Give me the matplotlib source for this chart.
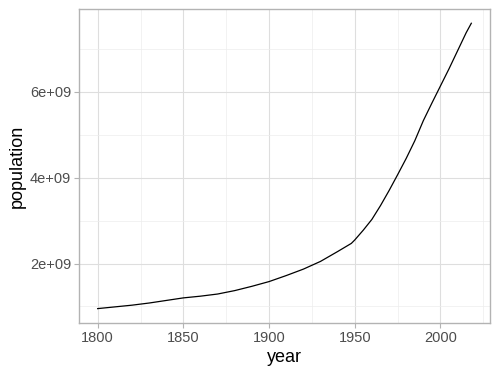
import numpy as np
import matplotlib
matplotlib.use("Agg")
import matplotlib.pyplot as plt
from matplotlib.ticker import FixedLocator, FuncFormatter

# world population
year = [1800, 1810, 1820, 1830, 1840, 1850, 1860, 1870, 1880, 1890,
        1900, 1910, 1920, 1930, 1940, 1948, 1950, 1955, 1960, 1965,
        1970, 1975, 1980, 1985, 1990, 1995, 2000, 2005, 2010, 2015, 2018]
population = [0.95e9, 0.99e9, 1.03e9, 1.08e9, 1.14e9, 1.20e9, 1.24e9, 1.29e9, 1.37e9, 1.47e9,
              1.58e9, 1.72e9, 1.87e9, 2.05e9, 2.28e9, 2.47e9, 2.55e9, 2.78e9, 3.03e9, 3.35e9,
              3.70e9, 4.07e9, 4.45e9, 4.86e9, 5.33e9, 5.74e9, 6.14e9, 6.54e9, 6.96e9, 7.38e9, 7.60e9]

xticks = [1800, 1850, 1900, 1950, 2000]
yticks = [2e9, 4e9, 6e9]
ylabels = ["2e+09", "4e+09", "6e+09"]

plt.rcParams['font.family'] = ['Liberation Sans', 'DejaVu Sans']

fig = plt.figure(figsize=(5, 3.75), dpi=100)
ax = fig.add_axes([0.158, 0.139, 0.822, 0.837])

ax.plot(year, population, color='black', lw=0.9)

x0, x1 = min(year), max(year)
y0, y1 = min(population), max(population)
ax.set_xlim(x0 - 0.05 * (x1 - x0), x1 + 0.05 * (x1 - x0))
ax.set_ylim(y0 - 0.05 * (y1 - y0), y1 + 0.05 * (y1 - y0))

ax.xaxis.set_major_locator(FixedLocator(xticks))
ax.xaxis.set_minor_locator(FixedLocator([1825, 1875, 1925, 1975, 2025]))
ax.yaxis.set_major_locator(FixedLocator(yticks))
ax.yaxis.set_minor_locator(FixedLocator([1e9, 3e9, 5e9, 7e9]))
ax.yaxis.set_major_formatter(FuncFormatter(lambda v, p: ylabels[yticks.index(v)] if v in yticks else ""))

ax.grid(which='major', color='#DEDEDE', lw=0.8)
ax.grid(which='minor', color='#EDEDED', lw=0.5)
ax.set_axisbelow(True)

for s in ax.spines.values():
    s.set_color('#B3B3B3')
    s.set_linewidth(1.0)

ax.tick_params(which='major', color='#B3B3B3', length=3.5, width=0.8,
               labelsize=10.5, labelcolor='#4D4D4D', pad=2)
ax.tick_params(which='minor', length=0)

ax.set_xlabel('year', fontsize=13, labelpad=3)
ax.set_ylabel('population', fontsize=13, labelpad=3)

fig.savefig('out.png', dpi=100)
